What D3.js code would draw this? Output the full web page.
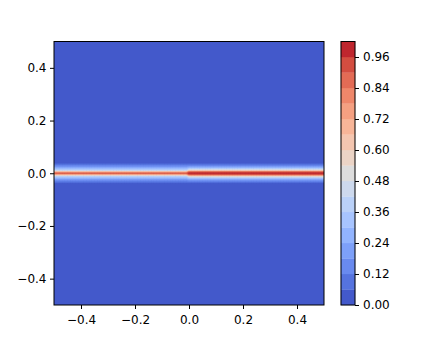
<!DOCTYPE html>
<html>
<head>
<meta charset="utf-8">
<script src="https://cdn.jsdelivr.net/npm/d3@7"></script>
<style>
  body { margin: 0; background: #fff; }
  svg { display: block; font-family: "DejaVu Sans", sans-serif; }
</style>
</head>
<body>
<div id="chart"></div>
<script>
// value across y (same for every column of a half)
const yOffsets = [0, 0.005, 0.01, 0.015, 0.02, 0.025, 0.03, 0.035, 0.04]
const leftProfile = [0.90, 0.68, 0.42, 0.33, 0.25, 0.18, 0.12, 0.07, 0.02]
const rightProfile = [1.0, 0.90, 0.58, 0.42, 0.30, 0.20, 0.13, 0.07, 0.02]

const levels = [0, 0.06, 0.12, 0.18, 0.24, 0.30, 0.36, 0.42, 0.48, 0.54, 0.60,
  0.66, 0.72, 0.78, 0.84, 0.90, 0.96, 1.02]
const xTicks = [-0.4, -0.2, 0, 0.2, 0.4]
const yTicks = [-0.4, -0.2, 0, 0.2, 0.4]
const cbTicks = [0, 0.12, 0.24, 0.36, 0.48, 0.60, 0.72, 0.84, 0.96]

// coolwarm control colours
const coolwarm = d3.piecewise(d3.interpolateRgb, [
  '#3b4cc0', '#445acc', '#4d68d7', '#5775e1', '#6282ea', '#6c8ef1', '#779af7', '#82a5fb',
  '#8db0fe', '#98b9ff', '#a3c2ff', '#aec9fd', '#b8d0f9', '#c2d5f4', '#ccd9ee', '#d5dbe6',
  '#dddddd', '#e5d8d1', '#ecd3c5', '#f1ccb9', '#f5c4ad', '#f7bba0', '#f7b194', '#f7a687',
  '#f49a7b', '#f18d6f', '#ec7f63', '#e57058', '#de604d', '#d55042', '#cb3e38', '#c0282f',
  '#b40426'
])

const width = 436
const height = 349
const margin = { top: 41.5, left: 54, right: 324, bottom: 305 }
const cb = { left: 341, right: 355 }

const svg = d3.select('#chart')
  .append('svg')
    .attr('width', width)
    .attr('height', height)

const x = d3.scaleLinear().domain([-0.5, 0.5]).range([margin.left, margin.right])
const y = d3.scaleLinear().domain([-0.5, 0.5]).range([margin.bottom, margin.top])
const c = d3.scaleLinear().domain([0, 1.02]).range([margin.bottom, margin.top])

const bandColor = i => coolwarm(((levels[i] + levels[i + 1]) / 2) / levels[levels.length - 1])

// grid
const dxStep = 0.01
const dyStep = yOffsets[1] - yOffsets[0]
const nx = Math.round(1 / dxStep) + 1
const ny = Math.round(1 / dyStep) + 1
const values = new Array(nx * ny)
for (let j = 0; j < ny; j++) {
  const gy = 0.5 - j * dyStep
  const k = Math.round(Math.abs(gy) / dyStep)
  for (let i = 0; i < nx; i++) {
    const gx = -0.5 + i * dxStep
    const profile = gx < -0.001 ? leftProfile : rightProfile
    values[j * nx + i] = k < profile.length ? profile[k] : 0
  }
}

const contours = d3.contours()
  .size([nx, ny])
  .thresholds(levels.slice(0, -1))(values)

const path = d3.geoPath(d3.geoTransform({
  point(px, py) {
    this.stream.point(x(-0.5 + (px - 0.5) * dxStep), y(0.5 - (py - 0.5) * dyStep))
  }
}))

svg.append('clipPath')
    .attr('id', 'plot-clip')
  .append('rect')
    .attr('x', margin.left)
    .attr('y', margin.top)
    .attr('width', margin.right - margin.left)
    .attr('height', margin.bottom - margin.top)

svg.append('g')
    .attr('clip-path', 'url(#plot-clip)')
  .selectAll('path')
  .data(contours)
  .enter()
  .append('path')
    .attr('d', path)
    .attr('fill', (d, i) => bandColor(i))
    .attr('stroke', (d, i) => bandColor(i))
    .attr('stroke-width', 0.3)

svg.append('rect')
  .attr('x', margin.left)
  .attr('y', margin.top)
  .attr('width', margin.right - margin.left)
  .attr('height', margin.bottom - margin.top)
  .attr('fill', 'none')
  .attr('stroke', '#000')
  .attr('stroke-width', 1)

// axes
const fmt1 = d3.format('.1f')
const xAxis = svg.append('g')
  .attr('transform', `translate(0, ${margin.bottom})`)
  .call(d3.axisBottom(x).tickValues(xTicks).tickFormat(fmt1).tickSize(4).tickSizeOuter(0))
xAxis.selectAll('text').attr('dy', null).attr('y', 19)

const yAxis = svg.append('g')
  .attr('transform', `translate(${margin.left}, 0)`)
  .call(d3.axisLeft(y).tickValues(yTicks).tickFormat(fmt1).tickSize(4).tickPadding(3.5).tickSizeOuter(0))

// colorbar
svg.append('g')
  .selectAll('rect')
  .data(levels.slice(0, -1))
  .enter()
  .append('rect')
    .attr('x', cb.left)
    .attr('width', cb.right - cb.left)
    .attr('y', (d, i) => c(levels[i + 1]))
    .attr('height', (d, i) => c(levels[i]) - c(levels[i + 1]))
    .attr('fill', (d, i) => bandColor(i))
    .attr('stroke', (d, i) => bandColor(i))
    .attr('stroke-width', 0.3)

svg.append('rect')
  .attr('x', cb.left)
  .attr('y', margin.top)
  .attr('width', cb.right - cb.left)
  .attr('height', margin.bottom - margin.top)
  .attr('fill', 'none')
  .attr('stroke', '#000')
  .attr('stroke-width', 1)

const cAxis = svg.append('g')
  .attr('transform', `translate(${cb.right}, 0)`)
  .call(d3.axisRight(c).tickValues(cbTicks).tickFormat(d3.format('.2f')).tickSize(4).tickPadding(4).tickSizeOuter(0))

svg.selectAll('.domain').remove()
svg.selectAll('.tick text')
  .attr('font-family', '"DejaVu Sans", sans-serif')
  .attr('font-size', 12)
  .attr('fill', '#000')
svg.selectAll('.tick line').attr('stroke', '#000').attr('stroke-width', 1)
</script>
</body>
</html>
